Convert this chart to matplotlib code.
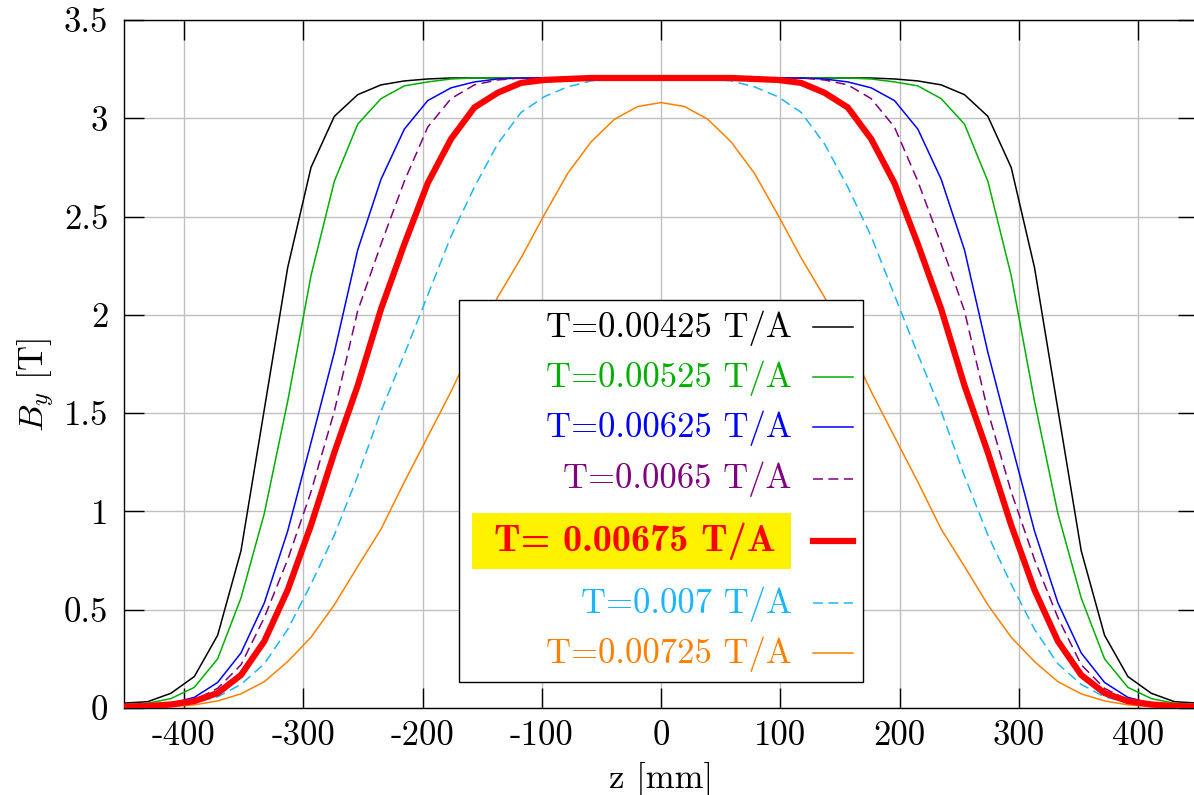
import matplotlib
matplotlib.use('Agg')
import matplotlib.pyplot as plt
from matplotlib.patches import Rectangle
from matplotlib.lines import Line2D

plt.rcParams['font.family'] = 'cmr10'
plt.rcParams['mathtext.fontset'] = 'cm'
plt.rcParams['axes.unicode_minus'] = False
plt.rcParams['axes.formatter.use_mathtext'] = True

# ---------------- data ----------------
z_mm = [-450.00, -430.43, -410.87, -391.30, -371.74, -352.17, -332.61, -313.04,
        -293.48, -273.91, -254.35, -234.78, -215.22, -195.65, -176.09, -156.52,
        -136.96, -117.39, -97.83, -78.26, -58.70, -39.13, -19.57, 0.00,
        19.57, 39.13, 58.70, 78.26, 97.83, 117.39, 136.96, 156.52,
        176.09, 195.65, 215.22, 234.78, 254.35, 273.91, 293.48, 313.04,
        332.61, 352.17, 371.74, 391.30, 410.87, 430.43, 450.00]

T_values = ["0.00425", "0.00525", "0.00625", "0.0065", "0.00675", "0.007", "0.00725"]

B_00425 = [0.025, 0.032, 0.075, 0.16, 0.37, 0.80, 1.52, 2.24, 2.75, 3.01, 3.12, 3.17,
           3.19, 3.20, 3.205, 3.205, 3.205, 3.205, 3.205, 3.205, 3.205, 3.205, 3.205, 3.205,
           3.205, 3.205, 3.205, 3.205, 3.205, 3.205, 3.205, 3.205, 3.205, 3.20, 3.19,
           3.17, 3.12, 3.01, 2.75, 2.24, 1.52, 0.80, 0.37, 0.16, 0.075, 0.032, 0.025]
B_00525 = [0.015, 0.024, 0.048, 0.105, 0.25, 0.56, 0.99, 1.56, 2.20, 2.68, 2.97, 3.10,
           3.165, 3.185, 3.20, 3.205, 3.205, 3.205, 3.205, 3.205, 3.205, 3.205, 3.205, 3.205,
           3.205, 3.205, 3.205, 3.205, 3.205, 3.205, 3.205, 3.205, 3.20, 3.185, 3.165,
           3.10, 2.97, 2.68, 2.20, 1.56, 0.99, 0.56, 0.25, 0.105, 0.048, 0.024, 0.015]
B_00625 = [0.008, 0.012, 0.024, 0.054, 0.13, 0.28, 0.535, 0.90, 1.35, 1.81, 2.33, 2.69,
           2.945, 3.09, 3.155, 3.185, 3.20, 3.205, 3.205, 3.205, 3.205, 3.205, 3.205, 3.205,
           3.205, 3.205, 3.205, 3.205, 3.205, 3.205, 3.20, 3.185, 3.155, 3.09, 2.945,
           2.69, 2.33, 1.81, 1.35, 0.90, 0.535, 0.28, 0.13, 0.054, 0.024, 0.012, 0.008]
B_0065 = [0.006, 0.010, 0.018, 0.04, 0.10, 0.22, 0.46, 0.755, 1.10, 1.51, 2.02, 2.36,
          2.68, 2.955, 3.10, 3.17, 3.195, 3.205, 3.205, 3.205, 3.205, 3.205, 3.205, 3.205,
          3.205, 3.205, 3.205, 3.205, 3.205, 3.205, 3.195, 3.17, 3.10, 2.955, 2.68,
          2.36, 2.02, 1.51, 1.10, 0.755, 0.46, 0.22, 0.10, 0.04, 0.018, 0.010, 0.006]
B_00675 = [0.007, 0.010, 0.018, 0.035, 0.076, 0.168, 0.34, 0.60, 0.93, 1.30, 1.64, 2.03,
           2.36, 2.67, 2.895, 3.055, 3.13, 3.18, 3.195, 3.20, 3.205, 3.205, 3.205, 3.205,
           3.205, 3.205, 3.205, 3.20, 3.195, 3.18, 3.13, 3.055, 2.895, 2.67, 2.36,
           2.03, 1.64, 1.30, 0.93, 0.60, 0.34, 0.168, 0.076, 0.035, 0.018, 0.010, 0.007]
B_007 = [0.004, 0.007, 0.013, 0.027, 0.057, 0.12, 0.225, 0.40, 0.63, 0.88, 1.18, 1.51,
         1.80, 2.10, 2.40, 2.65, 2.87, 3.03, 3.11, 3.16, 3.19, 3.20, 3.205, 3.205,
         3.205, 3.20, 3.19, 3.16, 3.11, 3.03, 2.87, 2.65, 2.40, 2.10, 1.80,
         1.51, 1.18, 0.88, 0.63, 0.40, 0.225, 0.12, 0.057, 0.027, 0.013, 0.007, 0.004]
B_00725 = [0.001, 0.003, 0.007, 0.016, 0.036, 0.072, 0.134, 0.236, 0.36, 0.525, 0.72, 0.91,
           1.15, 1.38, 1.61, 1.86, 2.09, 2.29, 2.51, 2.72, 2.88, 2.995, 3.06, 3.08,
           3.06, 2.995, 2.88, 2.72, 2.51, 2.29, 2.09, 1.86, 1.61, 1.38, 1.15,
           0.91, 0.72, 0.525, 0.36, 0.236, 0.134, 0.072, 0.036, 0.016, 0.007, 0.003, 0.001]

series = [B_00425, B_00525, B_00625, B_0065, B_00675, B_007, B_00725]
highlight = 4

x_ticks = [-400, -300, -200, -100, 0, 100, 200, 300, 400]
x_tick_labels = ["-400", "-300", "-200", "-100", "0", "100", "200", "300", "400"]
y_ticks = [0, 0.5, 1, 1.5, 2, 2.5, 3, 3.5]
y_tick_labels = ["0", "0.5", "1", "1.5", "2", "2.5", "3", "3.5"]

# ---------------- style ----------------
colors = ['#000000', '#00b000', '#0000ff', '#800080', '#ff0000', '#1ab6ff', '#ff8000']
dash = (0, (6.5, 3.6))
styles = ['-', '-', '-', dash, '-', dash, '-']
widths = [1.1, 1.1, 1.1, 1.1, 4.5, 1.1, 1.1]

W, H = 1194, 795
fig = plt.figure(figsize=(W / 100, H / 100), dpi=100)


def fx(px):
    return px / W


def fy(py):
    return 1 - py / H


ax = fig.add_axes([fx(124.3), fy(708), fx(1197.9) - fx(124.3), fy(20) - fy(708)])

for i, (vals, c, ls, lw) in enumerate(zip(series, colors, styles, widths)):
    ax.plot(z_mm, vals, color=c, linestyle=ls, linewidth=lw,
            zorder=3 if i == highlight else 2, solid_joinstyle='miter')

ax.set_xlim(-450, 450)
ax.set_ylim(0, 3.5)
ax.set_xticks(x_ticks)
ax.set_xticklabels(x_tick_labels)
ax.set_yticks(y_ticks)
ax.set_yticklabels(y_tick_labels)
ax.tick_params(direction='in', length=14.4, width=1.0, top=True, right=True,
               labelsize=25, colors='black')
ax.tick_params(axis='x', pad=9)
ax.tick_params(axis='y', pad=11.5)
ax.grid(True, color='#c0c0c0', linewidth=1.0)
ax.set_axisbelow(True)
for s in ax.spines.values():
    s.set_linewidth(1.0)

ax.set_xlabel('z [mm]', fontsize=25, labelpad=7)
ax.set_ylabel('$B_y$ [T]', fontsize=25)
ax.yaxis.set_label_coords(-0.063, 0.47)

# ---------------- key (gnuplot style) ----------------
box = Rectangle((fx(459.3), fy(681.7)), fx(862.7) - fx(459.3), fy(300) - fy(681.7),
                transform=fig.transFigure, facecolor='white', edgecolor='black',
                linewidth=1.0, zorder=5)
fig.add_artist(box)

baselines = [336.7, 386.7, 436.7, 488.3, 550.5, 612.7, 662.7]
for i, (t, c, ls, lw, bl) in enumerate(zip(T_values, colors, styles, widths, baselines)):
    hy = bl - 9.5
    if i == highlight:
        hl = Rectangle((fx(471.5), fy(569)), fx(790.7) - fx(471.5), fy(513.3) - fy(569),
                       transform=fig.transFigure, facecolor='#fff200', edgecolor='none',
                       zorder=6)
        fig.add_artist(hl)
        fig.text(fx(776), fy(bl), f"T= {t} T/A", ha='right', va='baseline', color=c,
                 fontsize=27.5, family='cmb10', zorder=7)
    else:
        fig.text(fx(791.7), fy(bl), f"T={t} T/A", ha='right', va='baseline', color=c,
                 fontsize=25, zorder=7)
    fig.add_artist(Line2D([fx(812.7), fx(852.7)], [fy(hy), fy(hy)], transform=fig.transFigure,
                          color=c, linestyle=ls, linewidth=lw, zorder=7))

fig.savefig('out.png', dpi=100)
